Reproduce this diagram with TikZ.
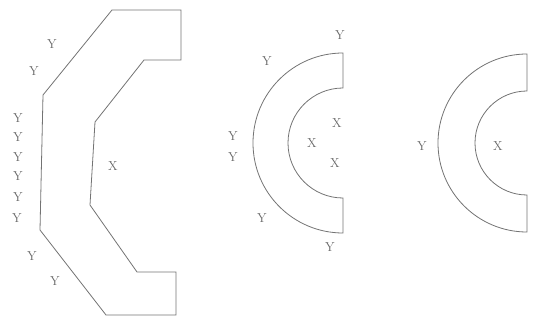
\documentclass[tikz,border=0pt]{standalone}
\usepackage{tikz}
\usetikzlibrary{positioning,calc}
\usepackage{xcolor}
\definecolor{edge}{gray}{0.45}
\definecolor{ink}{gray}{0.4}

\begin{document}
\begin{tikzpicture}[x=1pt,y=-1pt,
  lbl/.style={inner sep=0pt,text=ink,font=\fontsize{13}{15}\selectfont},
  wall/.style={draw=edge,line width=0.8pt,line join=miter}]
\useasboundingbox (0,0) rectangle (533,320);
% left: polygon
\draw[wall] (112,10) -- (181,10) -- (181,60) -- (144,60) -- (95,122) -- (90,205)
  -- (137,272) -- (176,272) -- (176,315) -- (106,315) -- (40,230) -- (43,95) -- cycle;
\node[lbl] (y1) at (52,44) {Y};
\node[lbl] (y2) at (34,71) {Y};
\node[lbl] (y3) at (18,118) {Y};
\node[lbl] (y4) at (18,137) {Y};
\node[lbl] (y5) at (18,157) {Y};
\node[lbl] (y6) at (18,176) {Y};
\node[lbl] (y7) at (18,197) {Y};
\node[lbl] (y8) at (17,218) {Y};
\node[lbl] (y9) at (32,256) {Y};
\node[lbl] (y10) at (55,281) {Y};
\node[lbl] (x1) at (113,166) {X};
% middle: half ring
\draw[wall] (343,53) arc[start angle=270,end angle=90,radius=90] -- (343,198)
  arc[start angle=90,end angle=270,radius=55] -- cycle;
\node[lbl] (y11) at (340,35) {Y};
\node[lbl] (y12) at (267,61) {Y};
\node[lbl] (y13) at (233,136) {Y};
\node[lbl] (y14) at (233,157) {Y};
\node[lbl] (y15) at (262,218) {Y};
\node[lbl] (y16) at (330,247) {Y};
\node[lbl] (x2) at (337,123) {X};
\node[lbl] (x3) at (312,143) {X};
\node[lbl] (x4) at (335,163) {X};
% right: half ring
\draw[wall] (527,54) arc[start angle=270,end angle=90,radius=89] -- (527,195)
  arc[start angle=90,end angle=270,radius=52] -- cycle;
\node[lbl] (y17) at (422,146) {Y};
\node[lbl] (x5) at (498,146) {X};
\end{tikzpicture}
\end{document}
